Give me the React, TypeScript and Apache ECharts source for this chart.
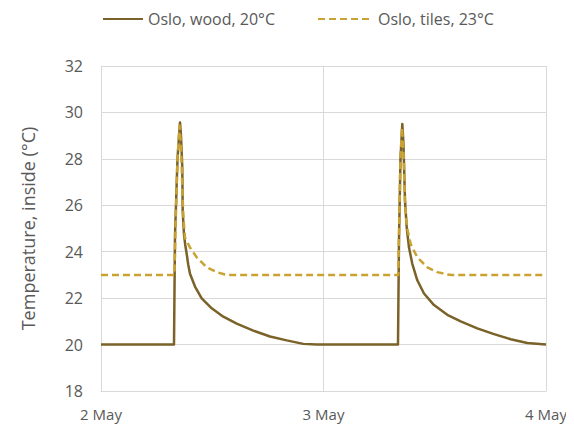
import React, { useEffect, useRef } from "react";
import * as echarts from "echarts";

const dayLabels = ["2 May", "3 May", "4 May"];
const seriesNames = ["Oslo, wood, 20°C", "Oslo, tiles, 23°C"];

// [days since 2 May 00:00, temperature °C]
const woodData: number[][] = [
  [0, 20], [0.3281, 20], [0.3326, 24.7], [0.3438, 28], [0.3551, 29.57],
  [0.3596, 29.0], [0.3654, 27.6], [0.3672, 25.74], [0.373, 24.75], [0.3785, 24.3],
  [0.3852, 23.9], [0.392, 23.45], [0.4, 23.05], [0.4225, 22.5], [0.4526, 21.99],
  [0.4975, 21.56], [0.5497, 21.2], [0.6099, 20.9], [0.6845, 20.6], [0.7596, 20.35],
  [0.8346, 20.18], [0.9092, 20.03], [0.9694, 20.0],
  [1.3348, 20], [1.3393, 24.5], [1.346, 28], [1.3542, 29.5], [1.3596, 28.6],
  [1.3663, 26.2], [1.374, 25.04], [1.3843, 24.18], [1.3991, 23.48], [1.4216, 22.77],
  [1.4517, 22.2], [1.4966, 21.7], [1.5564, 21.28], [1.6166, 21.0], [1.6912, 20.7],
  [1.7663, 20.45], [1.8413, 20.23], [1.916, 20.07], [2.0, 20.0],
];

const tilesData: number[][] = [
  [0, 23], [0.3303, 23], [0.3348, 25], [0.3438, 28], [0.3528, 29.43], [0.3596, 28.6],
  [0.3663, 26.5], [0.3708, 25.4], [0.3775, 24.6], [0.4, 24.18], [0.4301, 23.76],
  [0.4751, 23.33], [0.52, 23.12], [0.5573, 23.02], [0.58, 23],
  [1.3362, 23], [1.3407, 25.5], [1.346, 28], [1.3528, 29.35], [1.3596, 28.3],
  [1.3663, 26.2], [1.374, 25.1], [1.3919, 24.33], [1.4216, 23.76], [1.4665, 23.33],
  [1.5115, 23.12], [1.5564, 23.02], [1.5775, 23], [2.0, 23],
];

const woodColor = "#7a6228";
const tilesColor = "#c9a232";
const textColor = "#595959";
const gridColor = "#d9d9d9";
const fontFamily = "'Open Sans', sans-serif";

export default function App() {
  const ref = useRef<HTMLDivElement>(null);
  useEffect(() => {
    if (!ref.current) return;
    const chart = echarts.init(ref.current, undefined, { renderer: "svg" });
    chart.setOption({
      animation: false,
      backgroundColor: "#ffffff",
      textStyle: { fontFamily },
      legend: [
        {
          data: [seriesNames[0]],
          left: 97,
          top: 6,
          itemWidth: 40,
          itemHeight: 10,
          itemStyle: { opacity: 0 },
          textStyle: { color: textColor, fontSize: 16, fontFamily },
        },
        {
          data: [seriesNames[1]],
          left: 312,
          top: 6,
          itemWidth: 55,
          itemHeight: 10,
          itemStyle: { opacity: 0 },
          textStyle: { color: textColor, fontSize: 16, fontFamily },
        },
      ],
      grid: { left: 101, right: 28, top: 66, bottom: 37, containLabel: false },
      xAxis: {
        type: "value",
        min: 0,
        max: 2,
        interval: 1,
        axisLine: { show: true, lineStyle: { color: gridColor, width: 1 } },
        axisTick: { show: false },
        splitLine: { show: true, lineStyle: { color: gridColor, width: 1 } },
        axisLabel: {
          color: textColor,
          fontSize: 15,
          margin: 15,
          fontFamily,
          formatter: (v: number) => dayLabels[Math.round(v)] ?? "",
        },
      },
      yAxis: {
        type: "value",
        min: 18,
        max: 32,
        interval: 2,
        name: "Temperature, inside (°C)",
        nameLocation: "middle",
        nameGap: 64,
        nameTextStyle: { color: textColor, fontSize: 18, fontFamily },
        axisLine: { show: true, lineStyle: { color: gridColor, width: 1 } },
        axisTick: { show: false },
        splitLine: { show: true, lineStyle: { color: gridColor, width: 1 } },
        axisLabel: { color: textColor, fontSize: 16, margin: 18, fontFamily },
      },
      series: [
        {
          name: seriesNames[0],
          type: "line",
          data: woodData,
          symbol: "none",
          lineStyle: { color: woodColor, width: 2.5, join: "round" },
          itemStyle: { color: woodColor },
        },
        {
          name: seriesNames[1],
          type: "line",
          data: tilesData,
          symbol: "none",
          lineStyle: { color: tilesColor, width: 2.5, type: [7, 4], join: "round" },
          itemStyle: { color: tilesColor },
        },
      ],
    });
    return () => chart.dispose();
  }, []);
  return <div ref={ref} style={{ width: 574, height: 428, marginLeft: -8, marginTop: -8 }} />;
}
